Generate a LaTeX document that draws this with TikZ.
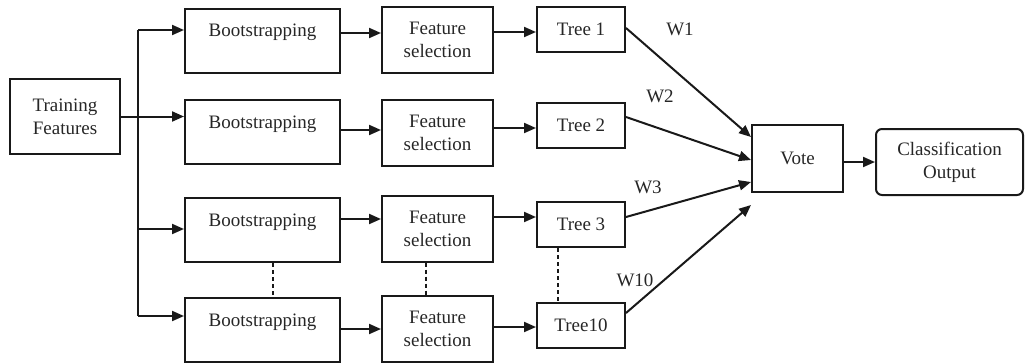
\documentclass[tikz,border=0pt]{standalone}
\usepackage{fontspec}
\setmainfont{Liberation Serif}
\usetikzlibrary{arrows.meta}
\begin{document}
\begin{tikzpicture}[x=1pt,y=-1pt, line width=2pt, draw=black!90,
 every node/.style={font=\fontsize{19}{23}\selectfont, text=black!85},
 box/.style={draw=black!90, line width=2pt, rectangle, inner sep=0pt, align=center},
 bootbox/.style={box, minimum width=155pt, text height=28pt, text depth=36pt},
 fsbox/.style={box, minimum width=111pt, minimum height=66pt},
 treebox/.style={box, minimum width=88pt, minimum height=45pt},
 arr/.style={draw=black!90, -{Triangle[length=12pt,width=10pt]}, line width=2pt},
 dots/.style={draw=black!90, dash pattern=on 4pt off 3pt, line width=2pt},
 plain/.style={draw=black!90, line width=2pt}]
\useasboundingbox (0,0) rectangle (1028,362);
% nodes
\node[box, minimum width=110pt, minimum height=75pt] (tf) at (65,116.5) {Training\\Features};
\node[bootbox] (b1) at (262.5,40.5) {Bootstrapping};
\node[bootbox] (b2) at (262.5,132) {Bootstrapping};
\node[bootbox] (b3) at (262.5,230) {Bootstrapping};
\node[bootbox] (b4) at (262.5,330) {Bootstrapping};
\node[fsbox] (fs1) at (437.5,39.5) {Feature\\selection};
\node[fsbox] (fs2) at (437.5,132.5) {Feature\\selection};
\node[fsbox] (fs3) at (437.5,228.5) {Feature\\selection};
\node[fsbox] (fs4) at (437.5,329) {Feature\\selection};
\node[treebox] (t1) at (581,29.5) {Tree 1};
\node[treebox] (t2) at (581,125) {Tree 2};
\node[treebox] (t3) at (581,224.5) {Tree 3};
\node[treebox] (t10) at (581,325.5) {Tree10};
\node[box, minimum width=91pt, minimum height=67pt] (vote) at (797.5,158.5) {Vote};
\node[box, rounded corners=6pt, minimum width=147pt, minimum height=66pt] (out) at (949.5,162) {Classification\\Output};
% weight labels
\node (w1) at (680,29) {W1};
\node (w2) at (660,96) {W2};
\node (w3) at (648,187) {W3};
\node (w10) at (635,280) {W10};
% trunk
\coordinate (j1) at (138,30);
\coordinate (j3) at (138,229);
\coordinate (j4) at (138,316);
\draw[plain] (j1) -- (j4);
\draw[arr] (j1) -- (j1 -| b1.west);
\draw[arr] (tf.east) -- (tf.east -| b2.west);
\draw[arr] (j3) -- (j3 -| b3.west);
\draw[arr] (j4) -- (j4 -| b4.west);
% bootstrap -> feature selection
\draw[arr] (b1.east |- 0,33) -- (fs1.west |- 0,33);
\draw[arr] (b2.east |- 0,130) -- (fs2.west |- 0,130);
\draw[arr] (b3.east |- 0,219) -- (fs3.west |- 0,219);
\draw[arr] (b4.east |- 0,329) -- (fs4.west |- 0,329);
% feature selection -> trees
\draw[arr] (fs1.east |- 0,32) -- (t1.west |- 0,32);
\draw[arr] (fs2.east |- 0,128) -- (t2.west |- 0,128);
\draw[arr] (fs3.east |- 0,217) -- (t3.west |- 0,217);
\draw[arr] (fs4.east |- 0,327) -- (t10.west |- 0,327);
% trees -> vote
\draw[arr] (t1.east |- 0,28) -- (vote.west |- 0,137);
\draw[arr] (t2.east |- 0,117) -- (vote.west |- 0,160);
\draw[arr] (t3.east |- 0,217) -- (vote.west |- 0,182);
\draw[arr] (t10.east |- 0,313) -- (vote.west |- 0,205);
% vote -> output
\draw[arr] (vote.east |- 0,162) -- (out.west |- 0,162);
% dotted continuations
\draw[dots] (b3.south -| 273,0) -- (b4.north -| 273,0);
\draw[dots] (fs3.south -| 426,0) -- (fs4.north -| 426,0);
\draw[dots] (t3.south -| 558,0) -- (t10.north -| 558,0);
\end{tikzpicture}
\end{document}
